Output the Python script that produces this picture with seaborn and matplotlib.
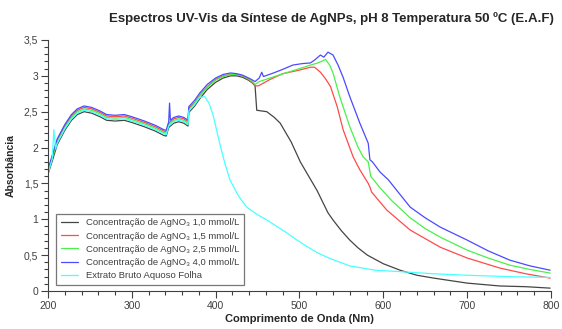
import numpy as np
import pandas as pd
import matplotlib
matplotlib.use("Agg")
import matplotlib.pyplot as plt
from matplotlib.ticker import MultipleLocator, FuncFormatter
import seaborn as sns

#### Data ####

labels = [
    "Concentração de AgNO₃ 1,0 mmol/L",
    "Concentração de AgNO₃ 1,5 mmol/L",
    "Concentração de AgNO₃ 2,5 mmol/L",
    "Concentração de AgNO₃ 4,0 mmol/L",
    "Extrato Bruto Aquoso Folha",
]
colors = ["#454545", "#ff4a4a", "#4af04a", "#4a4aff", "#4affff"]

x_10 = [200, 205, 211, 220, 228, 235, 243, 252, 262, 270, 280, 291, 300, 315, 328, 338, 341, 344, 350, 356,
        362, 367, 368, 375, 381, 390, 400, 409, 418, 425, 432, 439, 444, 447, 449, 461, 470, 477, 490, 501,
        511, 521, 534, 540, 550, 560, 570, 581, 600, 620, 640, 660, 700, 739, 770, 799]
y_10 = [1.63, 1.81, 2.04, 2.24, 2.38, 2.46, 2.50, 2.48, 2.43, 2.38, 2.37, 2.38, 2.35, 2.29, 2.23, 2.17, 2.16, 2.28, 2.34, 2.36,
        2.34, 2.30, 2.49, 2.58, 2.68, 2.81, 2.91, 2.97, 3.00, 3.00, 2.98, 2.94, 2.90, 2.86, 2.52, 2.50, 2.42, 2.34, 2.08, 1.80,
        1.60, 1.40, 1.09, 0.99, 0.84, 0.71, 0.60, 0.50, 0.38, 0.29, 0.22, 0.18, 0.11, 0.07, 0.06, 0.04]

x_15 = [200, 205, 211, 220, 228, 235, 243, 252, 262, 270, 280, 291, 300, 315, 328, 338, 341, 344, 350, 356,
        362, 367, 368, 375, 381, 390, 400, 409, 418, 425, 432, 439, 444, 447, 451, 465, 480, 500, 513, 518,
        525, 531, 537, 545, 552, 564, 572, 582, 584, 586, 604, 632, 668, 700, 739, 770, 799]
y_15 = [1.67, 1.87, 2.10, 2.30, 2.44, 2.52, 2.56, 2.54, 2.49, 2.44, 2.43, 2.44, 2.41, 2.35, 2.29, 2.23, 2.22, 2.34, 2.40, 2.42,
        2.40, 2.36, 2.55, 2.63, 2.73, 2.85, 2.95, 3.00, 3.02, 3.02, 3.00, 2.95, 2.90, 2.86, 2.86, 2.95, 3.03, 3.08, 3.12, 3.12,
        3.05, 2.96, 2.85, 2.57, 2.25, 1.87, 1.69, 1.50, 1.45, 1.38, 1.13, 0.85, 0.61, 0.46, 0.32, 0.24, 0.18]

x_25 = [200, 205, 211, 220, 228, 235, 243, 252, 262, 270, 280, 291, 300, 315, 328, 338, 341, 344, 350, 356,
        362, 367, 368, 375, 381, 390, 400, 409, 418, 425, 432, 439, 444, 447, 452, 465, 478, 489, 500, 513,
        522, 528, 531, 536, 540, 548, 560, 570, 576, 582, 585, 596, 610, 632, 650, 668, 700, 725, 751, 775, 799]
y_25 = [1.66, 1.85, 2.08, 2.28, 2.42, 2.50, 2.54, 2.52, 2.47, 2.42, 2.41, 2.42, 2.39, 2.33, 2.27, 2.21, 2.20, 2.32, 2.38, 2.40,
        2.38, 2.34, 2.53, 2.62, 2.72, 2.84, 2.94, 2.99, 3.02, 3.02, 3.00, 2.96, 2.92, 2.88, 2.92, 2.97, 3.02, 3.06, 3.10, 3.15,
        3.18, 3.21, 3.23, 3.15, 3.04, 2.71, 2.29, 2.00, 1.87, 1.80, 1.60, 1.44, 1.26, 1.02, 0.87, 0.75, 0.57, 0.46, 0.36, 0.30, 0.25]

x_40 = [200, 205, 211, 220, 228, 235, 243, 252, 262, 270, 280, 291, 300, 315, 328, 338, 341, 344, 345, 346,
        350, 356, 362, 367, 368, 375, 381, 390, 400, 409, 418, 425, 432, 441, 447, 452, 455, 457, 469, 480,
        492, 503, 513, 518, 525, 529, 534, 540, 546, 552, 560, 572, 582, 584, 587, 596, 606, 632, 650, 668,
        700, 725, 751, 775, 799]
y_40 = [1.69, 1.89, 2.12, 2.32, 2.46, 2.54, 2.58, 2.56, 2.51, 2.46, 2.45, 2.46, 2.43, 2.37, 2.31, 2.25, 2.24, 2.36, 2.62, 2.38,
        2.42, 2.44, 2.42, 2.38, 2.57, 2.66, 2.76, 2.88, 2.97, 3.02, 3.04, 3.03, 3.01, 2.96, 2.92, 2.97, 3.05, 2.99, 3.04, 3.09,
        3.15, 3.17, 3.18, 3.22, 3.29, 3.26, 3.33, 3.29, 3.15, 2.98, 2.71, 2.34, 2.06, 1.83, 1.80, 1.66, 1.55, 1.17, 1.02, 0.89,
        0.71, 0.56, 0.43, 0.35, 0.29]

x_ext = [200, 205, 207, 209, 211, 220, 228, 235, 243, 252, 262, 270, 280, 291, 300, 315, 328, 338, 341, 344,
         350, 356, 362, 367, 368, 375, 381, 387, 392, 397, 401, 405, 411, 417, 427, 437, 449, 461, 473, 485,
         497, 509, 522, 537, 560, 590, 620, 660, 700, 750, 799]
y_ext = [1.64, 1.84, 2.25, 1.98, 2.06, 2.26, 2.40, 2.48, 2.52, 2.50, 2.45, 2.40, 2.39, 2.40, 2.37, 2.31, 2.25, 2.19, 2.18, 2.30,
         2.36, 2.38, 2.36, 2.32, 2.51, 2.60, 2.70, 2.71, 2.62, 2.45, 2.25, 2.05, 1.78, 1.55, 1.33, 1.17, 1.07, 0.99, 0.90, 0.81,
         0.71, 0.62, 0.53, 0.45, 0.35, 0.29, 0.27, 0.24, 0.22, 0.20, 0.19]

x_ticks = [200, 300, 400, 500, 600, 700, 800]
y_ticks = [0, 0.5, 1, 1.5, 2, 2.5, 3, 3.5]

#### Build table ####
series = [(x_10, y_10), (x_15, y_15), (x_25, y_25), (x_40, y_40), (x_ext, y_ext)]
frames = []
for lab, (xs, ys) in zip(labels, series):
    frames.append(pd.DataFrame({"wl": xs, "abs": ys, "serie": lab}))
df = pd.concat(frames, ignore_index=True)

#### Plot ####
sns.set_style("white")
plt.rcParams["font.family"] = ["Liberation Sans", "DejaVu Sans"]

fig = plt.figure(figsize=(5.62, 3.29), dpi=100)
ax = fig.add_axes([0.0854, 0.1155, 0.895, 0.763])

sns.lineplot(data=df, x="wl", y="abs", hue="serie", hue_order=labels,
             palette=dict(zip(labels, colors)), estimator=None, sort=False,
             linewidth=0.9, ax=ax)

ax.set_xlim(200, 800)
ax.set_ylim(0, 3.5)
ax.set_xticks(x_ticks)
ax.set_yticks(y_ticks)
ax.xaxis.set_minor_locator(MultipleLocator(20))
ax.yaxis.set_minor_locator(MultipleLocator(0.1))
ax.yaxis.set_major_formatter(FuncFormatter(lambda v, p: f"{v:g}".replace(".", ",")))

ax.tick_params(which="major", direction="out", length=5, width=0.8, color="#404040",
               labelsize=7.5, labelcolor="#404040", pad=2, bottom=True, left=True)
ax.tick_params(which="minor", direction="out", length=3, width=0.8, color="#404040",
               bottom=True, left=True)

sns.despine(ax=ax)
for s in ["left", "bottom"]:
    ax.spines[s].set_color("#404040")
    ax.spines[s].set_linewidth(0.8)

ax.set_xlabel("Comprimento de Onda (Nm)", fontsize=8, fontweight="bold", labelpad=2)
ax.set_ylabel("Absorbância", fontsize=7.5, fontweight="bold", labelpad=6)

fig.text(0.59, 0.943, "Espectros UV-Vis da Síntese de AgNPs, pH 8 Temperatura 50 ºC (E.A.F)",
         ha="center", va="center", fontsize=9.5, fontweight="bold")

leg = ax.legend(loc="lower left", bbox_to_anchor=(0.016, 0.024), borderaxespad=0,
                fontsize=6.8, frameon=True, fancybox=False, handlelength=1.8,
                labelspacing=0.45, borderpad=0.5, handletextpad=0.9)
leg.get_frame().set_edgecolor("#555555")
leg.get_frame().set_linewidth(0.9)
for t in leg.get_texts():
    t.set_color("#404040")

plt.savefig("out.png", dpi=100)
plt.close(fig)
